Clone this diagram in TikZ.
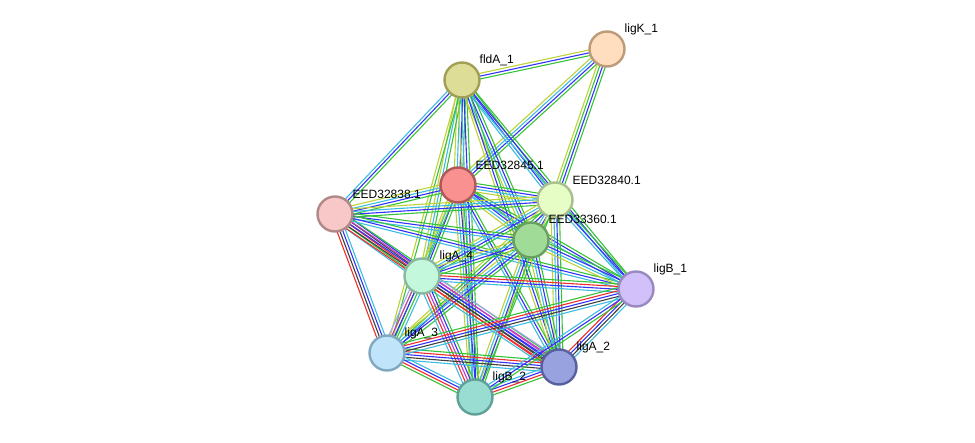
\documentclass[tikz,border=0pt]{standalone}
\usepackage{fontspec}
\setmainfont{Liberation Sans}
\usetikzlibrary{calc}
\pgfdeclarelayer{background}
\pgfsetlayers{background,main}
\definecolor{cy}{RGB}{60,188,225}
\definecolor{bl}{RGB}{50,50,250}
\definecolor{gr}{RGB}{55,195,55}
\definecolor{yg}{RGB}{190,210,55}
\definecolor{re}{RGB}{240,45,45}
\definecolor{bk}{RGB}{64,64,64}
\definecolor{mg}{RGB}{195,60,195}
\definecolor{lv}{RGB}{165,165,240}
\tikzset{
  prot/.style={circle, minimum size=35pt, inner sep=0pt, line width=2.4pt},
  lab/.style={anchor=west, font=\fontsize{12}{13}\selectfont, inner sep=0.5pt},
  edgeline/.style={line width=1.1pt}
}
\newcommand\bundle[3]{%
  \foreach \c [count=\n] in {#3} {\xdef\bn{\n}}%
  \foreach \c [count=\i] in {#3} {%
    \pgfmathsetmacro\o{(\i-(\bn+1)/2)*2.8}%
    \draw[edgeline,\c] ($(#1)!\o pt!90:(#2)$) -- ($(#2)!\o pt!-90:(#1)$);%
  }%
}
\begin{document}
\begin{tikzpicture}[x=1pt,y=-1pt]
\useasboundingbox (0,0) rectangle (975,443);
\node[prot, fill={rgb,255:red,254;green,222;blue,190}, draw={rgb,255:red,190;green,155;blue,120}] (K) at (607,49) {};
\node[prot, fill={rgb,255:red,222;green,221;blue,152}, draw={rgb,255:red,160;green,160;blue,85}] (F) at (462,80) {};
\node[prot, fill={rgb,255:red,250;green,145;blue,145}, draw={rgb,255:red,176;green,88;blue,88}] (E45) at (458,185) {};
\node[prot, fill={rgb,255:red,230;green,253;blue,198}, draw={rgb,255:red,168;green,192;blue,144}] (E40) at (555,200) {};
\node[prot, fill={rgb,255:red,248;green,200;blue,200}, draw={rgb,255:red,176;green,136;blue,136}] (E38) at (335,214) {};
\node[prot, fill={rgb,255:red,160;green,220;blue,152}, draw={rgb,255:red,104;green,160;blue,96}] (E60) at (531,240) {};
\node[prot, fill={rgb,255:red,196;green,248;blue,220}, draw={rgb,255:red,136;green,184;blue,160}] (A4) at (422,276) {};
\node[prot, fill={rgb,255:red,210;green,192;blue,250}, draw={rgb,255:red,154;green,136;blue,192}] (B1) at (636,289) {};
\node[prot, fill={rgb,255:red,192;green,228;blue,250}, draw={rgb,255:red,128;green,168;blue,192}] (A3) at (387,353) {};
\node[prot, fill={rgb,255:red,152;green,162;blue,222}, draw={rgb,255:red,88;green,96;blue,160}] (A2) at (559,367) {};
\node[prot, fill={rgb,255:red,152;green,220;blue,210}, draw={rgb,255:red,96;green,160;blue,152}] (B2) at (475,397) {};
\node[lab] (lK) at (624,29) {ligK\_1};
\node[lab] (lF) at (479,60) {fldA\_1};
\node[lab] (l45) at (475,165) {EED32845.1};
\node[lab] (l40) at (572,180) {EED32840.1};
\node[lab] (l38) at (352,194) {EED32838.1};
\node[lab] (l60) at (548,219) {EED33360.1};
\node[lab] (lA4) at (439,256) {ligA\_4};
\node[lab] (lB1) at (653,269) {ligB\_1};
\node[lab] (lA3) at (404,333) {ligA\_3};
\node[lab] (lA2) at (576,347) {ligA\_2};
\node[lab] (lB2) at (492,377) {ligB\_2};
\begin{pgfonlayer}{background}
\bundle{K}{F}{yg,bl,gr}
\bundle{K}{E45}{yg,cy,bl,gr}
\bundle{K}{E40}{yg,gr,bl,gr}
\bundle{F}{E38}{cy,bl,gr}
\bundle{F}{E45}{yg,cy,bl,gr}
\bundle{F}{E40}{cy,bl,gr}
\bundle{F}{E60}{yg,cy,bl,gr}
\bundle{F}{B1}{cy,bl,gr}
\bundle{F}{A4}{yg,cy,gr}
\bundle{F}{B2}{yg,cy,bl,gr}
\bundle{F}{A3}{yg,gr}
\bundle{F}{A2}{yg,bl,gr}
\bundle{E45}{E40}{yg,cy,bl,gr}
\bundle{E45}{E38}{yg,cy,bl,gr}
\bundle{E45}{E60}{yg,cy,bl,gr}
\bundle{E45}{A4}{yg,cy,bl,gr}
\bundle{E45}{B1}{cy,bl,gr}
\bundle{E45}{A3}{yg,gr}
\bundle{E45}{A2}{cy,bl,gr}
\bundle{E45}{B2}{yg,cy,bl,gr}
\bundle{E40}{E38}{yg,cy,bl,gr}
\bundle{E40}{E60}{yg,cy,bl,gr}
\bundle{E40}{A4}{yg,cy,bl,gr}
\bundle{E40}{B1}{cy,bl,gr}
\bundle{E40}{A3}{yg,gr,bl}
\bundle{E40}{A2}{yg,cy,bl,gr}
\bundle{E40}{B2}{yg,gr}
\bundle{E38}{E60}{cy,bl,gr}
\bundle{E38}{A4}{cy,gr,re,bk,bl}
\bundle{E38}{A2}{re,bk,bl,mg,gr}
\bundle{E38}{B1}{cy,bl,gr}
\bundle{E38}{A3}{re,bk,bl,cy}
\bundle{E60}{A4}{yg,cy,bl,gr}
\bundle{E60}{B1}{yg,cy,bl,gr}
\bundle{E60}{A3}{yg,cy,bl,gr}
\bundle{E60}{A2}{yg,cy,bl,gr}
\bundle{E60}{B2}{yg,cy,bl,gr}
\bundle{A4}{B1}{cy,bl,re,gr}
\bundle{A4}{A3}{lv,mg,bl,gr,cy}
\bundle{A4}{A2}{cy,re,bk,bl,mg,lv}
\bundle{A4}{B2}{cy,re,mg,bl,gr}
\bundle{A3}{A2}{cy,bk,bl,re,gr}
\bundle{A3}{B1}{cy,bk,bl,re,gr}
\bundle{A3}{B2}{gr,re,bl,cy}
\bundle{A2}{B2}{cy,bl,re,gr}
\bundle{A2}{B1}{cy,bk,bl,re}
\bundle{B1}{B2}{cy,bl,gr}
\end{pgfonlayer}
\end{tikzpicture}
\end{document}
